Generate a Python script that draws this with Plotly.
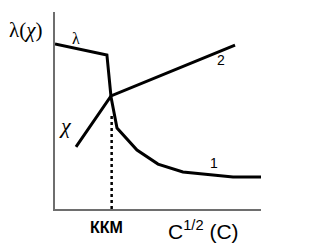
import plotly.graph_objects as go

# Curve 1: lambda (equivalent conductivity) vs sqrt(C)
lam_x = [0.0, 2.52, 2.72, 3.01, 3.98, 5.0, 6.21, 7.52, 8.64, 10.0]
lam_y = [8.38, 7.82, 5.69, 4.11, 2.99, 2.28, 1.88, 1.73, 1.62, 1.62]

# Curve 2: chi (specific conductivity) vs C
chi_x = [1.02, 2.72, 8.74]
chi_y = [3.15, 5.74, 8.32]

# Critical micelle concentration marker
kkm_x = [2.75, 2.75]
kkm_y = [0.0, 4.87]

fig = go.Figure()
fig.add_trace(go.Scatter(x=lam_x, y=lam_y, mode="lines",
                         line=dict(color="black", width=3), hoverinfo="skip"))
fig.add_trace(go.Scatter(x=chi_x, y=chi_y, mode="lines",
                         line=dict(color="black", width=3), hoverinfo="skip"))
fig.add_trace(go.Scatter(x=kkm_x, y=kkm_y, mode="lines",
                         line=dict(color="black", width=2.5, dash="dot"), hoverinfo="skip"))

serif = "'Liberation Serif', 'Times New Roman', serif"
sans = "Arial, 'Liberation Sans', sans-serif"

ann = [
    dict(x=-0.141, y=0.909, xref="paper", yref="paper", text="λ(<i>χ</i>)",
         font=dict(family=serif, size=21, color="black")),
    dict(x=1.02, y=8.68, text="λ", font=dict(family=serif, size=16, color="black")),
    dict(x=0.51, y=4.26, text="<i>χ</i>", font=dict(family=serif, size=22, color="black")),
    dict(x=8.06, y=7.54, text="2", font=dict(family=sans, size=14, color="black")),
    dict(x=7.72, y=2.36, text="1", font=dict(family=sans, size=14, color="black")),
    dict(x=0.248, y=-0.096, xref="paper", yref="paper", text="<b>ККМ</b>",
         font=dict(family=sans, size=16, color="black")),
    dict(x=0.721, y=-0.107, xref="paper", yref="paper", text="C<sup>1/2</sup> (C)",
         font=dict(family=sans, size=21, color="black")),
]
for a in ann:
    a.setdefault("xref", "x")
    a.setdefault("yref", "y")
    a["showarrow"] = False
    a["xanchor"] = "center"
    a["yanchor"] = "middle"

fig.update_layout(
    width=333, height=243,
    margin=dict(l=55, r=72, t=12, b=34),
    paper_bgcolor="white", plot_bgcolor="white",
    showlegend=False,
    annotations=ann,
    xaxis=dict(range=[0, 10], showgrid=False, zeroline=False, showticklabels=False,
               ticks="", showline=True, linecolor="#6e6e6e", linewidth=1.5),
    yaxis=dict(range=[0, 10], showgrid=False, zeroline=False, showticklabels=False,
               ticks="", showline=True, linecolor="#6e6e6e", linewidth=1.5),
)

fig.write_html("out.html")
